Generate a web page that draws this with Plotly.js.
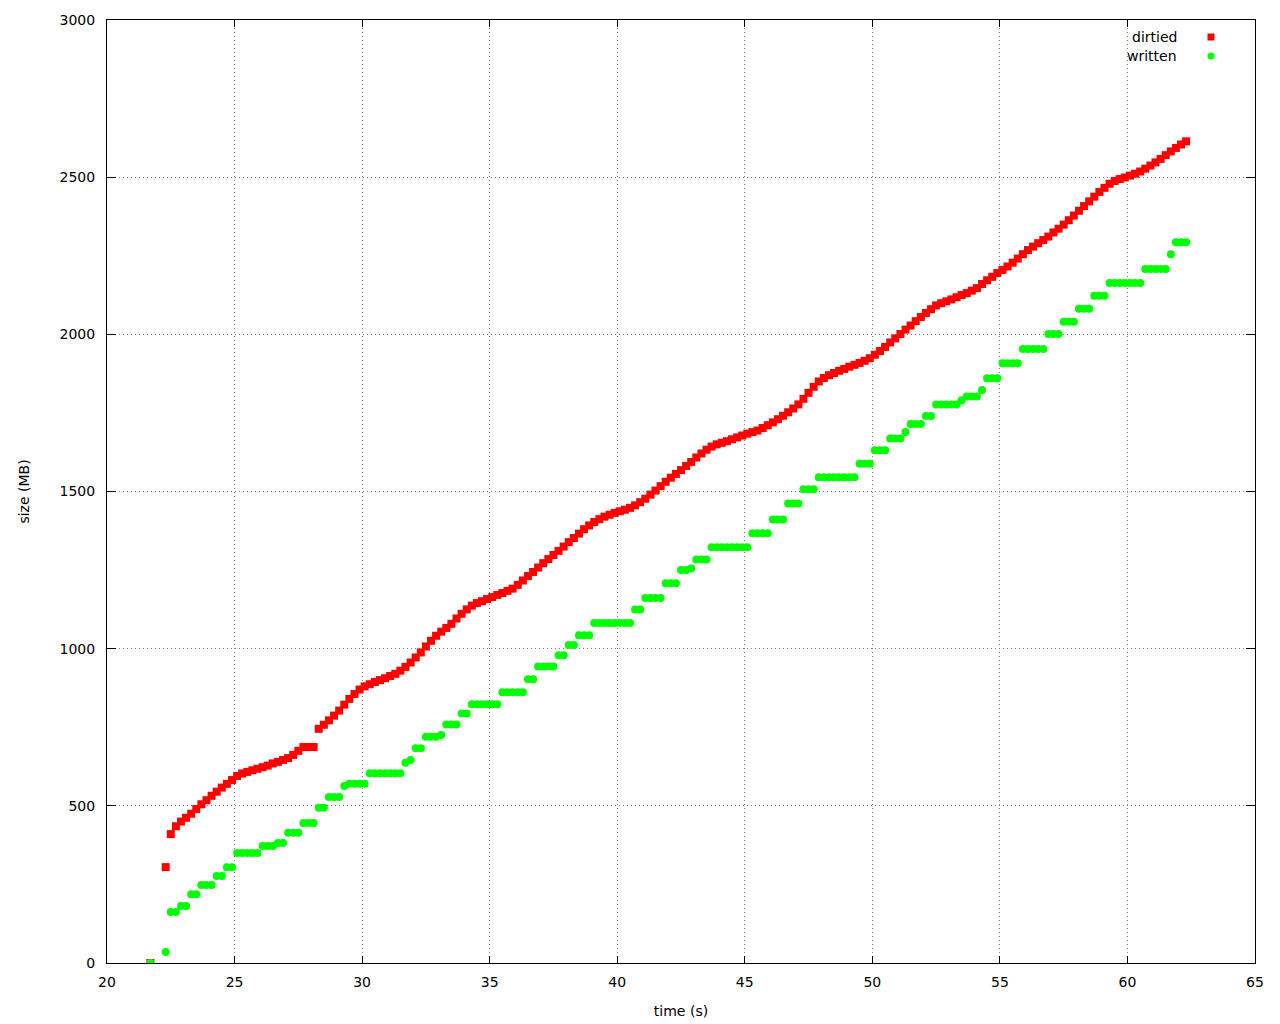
<!DOCTYPE html>
<html>
<head>
<meta charset="utf-8">
<script src="https://cdn.plot.ly/plotly-3.0.1.min.js"></script>
<style>html,body{margin:0;padding:0;background:#fff;}#chart{width:1280px;height:1024px;}</style>
</head>
<body>
<div id="chart"></div>
<script>
// sample times (s)
const time = [
  21.7, 22.3,
  22.5, 22.7, 22.9, 23.1, 23.3, 23.5, 23.7, 23.9, 24.1, 24.3,
  24.5, 24.7, 24.9, 25.1, 25.3, 25.5, 25.7, 25.9, 26.1, 26.3,
  26.5, 26.7, 26.9, 27.1, 27.3, 27.5, 27.7, 27.9, 28.1, 28.3,
  28.5, 28.7, 28.9, 29.1, 29.3, 29.5, 29.7, 29.9, 30.1, 30.3,
  30.5, 30.7, 30.9, 31.1, 31.3, 31.5, 31.7, 31.9, 32.1, 32.3,
  32.5, 32.7, 32.9, 33.1, 33.3, 33.5, 33.7, 33.9, 34.1, 34.3,
  34.5, 34.7, 34.9, 35.1, 35.3, 35.5, 35.7, 35.9, 36.1, 36.3,
  36.5, 36.7, 36.9, 37.1, 37.3, 37.5, 37.7, 37.9, 38.1, 38.3,
  38.5, 38.7, 38.9, 39.1, 39.3, 39.5, 39.7, 39.9, 40.1, 40.3,
  40.5, 40.7, 40.9, 41.1, 41.3, 41.5, 41.7, 41.9, 42.1, 42.3,
  42.5, 42.7, 42.9, 43.1, 43.3, 43.5, 43.7, 43.9, 44.1, 44.3,
  44.5, 44.7, 44.9, 45.1, 45.3, 45.5, 45.7, 45.9, 46.1, 46.3,
  46.5, 46.7, 46.9, 47.1, 47.3, 47.5, 47.7, 47.9, 48.1, 48.3,
  48.5, 48.7, 48.9, 49.1, 49.3, 49.5, 49.7, 49.9, 50.1, 50.3,
  50.5, 50.7, 50.9, 51.1, 51.3, 51.5, 51.7, 51.9, 52.1, 52.3,
  52.5, 52.7, 52.9, 53.1, 53.3, 53.5, 53.7, 53.9, 54.1, 54.3,
  54.5, 54.7, 54.9, 55.1, 55.3, 55.5, 55.7, 55.9, 56.1, 56.3,
  56.5, 56.7, 56.9, 57.1, 57.3, 57.5, 57.7, 57.9, 58.1, 58.3,
  58.5, 58.7, 58.9, 59.1, 59.3, 59.5, 59.7, 59.9, 60.1, 60.3,
  60.5, 60.7, 60.9, 61.1, 61.3, 61.5, 61.7, 61.9, 62.1, 62.3
];

// dirtied size (MB)
const dirtied = [
  0, 305,
  410, 435, 450, 462, 475, 490, 505, 518, 532, 545,
  558, 570, 582, 595, 603, 608, 613, 618, 623, 628,
  635, 640, 646, 652, 662, 675, 687, 687, 687, 745,
  758, 772, 787, 803, 822, 840, 856, 870, 880, 887,
  894, 900, 906, 913, 920, 930, 942, 956, 972, 988,
  1007, 1025, 1041, 1054, 1066, 1079, 1096, 1111, 1125, 1137,
  1145, 1151, 1158, 1164, 1171, 1177, 1184, 1191, 1203, 1217,
  1231, 1244, 1258, 1272, 1285, 1298, 1311, 1325, 1339, 1352,
  1366, 1380, 1392, 1403, 1412, 1420, 1426, 1432, 1437, 1442,
  1448, 1456, 1466, 1477, 1490, 1503, 1517, 1531, 1544, 1556,
  1568, 1581, 1594, 1608, 1621, 1633, 1643, 1650, 1655, 1660,
  1666, 1672, 1678, 1684, 1689, 1694, 1702, 1711, 1720, 1730,
  1741, 1752, 1764, 1777, 1795, 1814, 1833, 1850, 1861, 1870,
  1877, 1884, 1890, 1897, 1903, 1909, 1916, 1924, 1935, 1947,
  1960, 1974, 1987, 2001, 2015, 2028, 2042, 2055, 2068, 2080,
  2092, 2099, 2105, 2111, 2118, 2125, 2131, 2139, 2147, 2160,
  2172, 2183, 2195, 2205, 2216, 2228, 2241, 2255, 2268, 2279,
  2290, 2300, 2311, 2324, 2336, 2349, 2363, 2378, 2393, 2408,
  2423, 2438, 2453, 2466, 2479, 2488, 2494, 2499, 2505, 2511,
  2518, 2527, 2537, 2547, 2558, 2570, 2582, 2593, 2604, 2614
];

// written size (MB)
const written = [
  0, 35,
  162, 162, 181, 181, 219, 219, 248, 248, 248, 277,
  277, 305, 305, 350, 350, 350, 350, 350, 372, 372,
  372, 382, 382, 414, 414, 414, 445, 445, 445, 494,
  494, 528, 528, 528, 563, 570, 570, 570, 570, 604,
  604, 604, 604, 604, 604, 604, 637, 646, 683, 683,
  720, 720, 720, 725, 759, 759, 759, 794, 794, 823,
  823, 823, 823, 823, 823, 861, 861, 861, 861, 861,
  903, 903, 943, 943, 943, 943, 979, 979, 1012, 1012,
  1043, 1043, 1043, 1082, 1082, 1082, 1082, 1082, 1082, 1082,
  1082, 1125, 1125, 1161, 1161, 1161, 1161, 1208, 1208, 1208,
  1250, 1250, 1255, 1284, 1284, 1284, 1323, 1323, 1323, 1323,
  1323, 1323, 1323, 1323, 1367, 1367, 1367, 1367, 1411, 1411,
  1411, 1462, 1462, 1462, 1507, 1507, 1507, 1545, 1545, 1545,
  1545, 1545, 1545, 1545, 1545, 1588, 1588, 1588, 1631, 1631,
  1631, 1669, 1669, 1669, 1689, 1715, 1715, 1715, 1740, 1740,
  1777, 1777, 1777, 1777, 1777, 1790, 1802, 1802, 1802, 1823,
  1860, 1860, 1860, 1908, 1908, 1908, 1908, 1953, 1953, 1953,
  1953, 1953, 2001, 2001, 2001, 2040, 2040, 2040, 2081, 2081,
  2081, 2123, 2123, 2123, 2163, 2163, 2163, 2163, 2163, 2163,
  2163, 2208, 2208, 2208, 2208, 2208, 2255, 2293, 2293, 2293
];

const seriesNames = ['dirtied', 'written'];
const xTicks = [20, 25, 30, 35, 40, 45, 50, 55, 60, 65];
const yTicks = [0, 500, 1000, 1500, 2000, 2500, 3000];

const RED = '#ff0000';
const GREEN = '#00ff00';
const FONT = 'DejaVu Sans, sans-serif';
const FS = 14;

const traces = [
  {
    type: 'scatter', mode: 'markers', name: seriesNames[0],
    x: time, y: dirtied,
    marker: {symbol: 'square', size: 8, color: RED, line: {width: 0}},
    showlegend: false, hoverinfo: 'x+y'
  },
  {
    type: 'scatter', mode: 'markers', name: seriesNames[1],
    x: time, y: written,
    marker: {symbol: 'circle', size: 8, color: GREEN, line: {width: 0}},
    showlegend: false, hoverinfo: 'x+y'
  }
];

// legend (gnuplot style: text on the left, key on the right)
const keyX = (1211 - 107) / 1148;
const txtX = (1179 - 107) / 1148;
const row1 = (963 - 37) / 943;
const row2 = (963 - 56) / 943;

const layout = {
  width: 1280, height: 1024,
  margin: {l: 107, r: 25, t: 20, b: 61, pad: 0},
  paper_bgcolor: '#fff', plot_bgcolor: '#fff',
  font: {family: FONT, size: FS, color: '#000'},
  showlegend: false,
  xaxis: {
    range: [20, 65], tickvals: xTicks, ticktext: xTicks.map(String),
    ticks: 'inside', ticklen: 7, tickwidth: 1, tickcolor: '#000',
    showline: true, linecolor: '#000', linewidth: 1, mirror: 'allticks',
    showgrid: true, gridcolor: '#808080', gridwidth: 1, griddash: '1px,3px',
    zeroline: false, ticklabelstandoff: 6,
    tickfont: {family: FONT, size: FS, color: '#000'},
    title: {text: 'time (s)', font: {family: FONT, size: FS, color: '#000'}, standoff: 17}
  },
  yaxis: {
    range: [0, 3000], tickvals: yTicks, ticktext: yTicks.map(String),
    ticks: 'inside', ticklen: 9, tickwidth: 1, tickcolor: '#000',
    showline: true, linecolor: '#000', linewidth: 1, mirror: 'allticks',
    showgrid: true, gridcolor: '#808080', gridwidth: 1, griddash: '1px,3px',
    zeroline: false, ticklabelstandoff: 8,
    tickfont: {family: FONT, size: FS, color: '#000'},
    title: {text: 'size (MB)', font: {family: FONT, size: FS, color: '#000'}, standoff: 26}
  },
  annotations: [
    {xref: 'paper', yref: 'paper', x: txtX, y: row1, xanchor: 'right', yanchor: 'middle',
     text: seriesNames[0], showarrow: false, font: {family: FONT, size: FS, color: '#000'}},
    {xref: 'paper', yref: 'paper', x: txtX, y: row2, xanchor: 'right', yanchor: 'middle',
     text: seriesNames[1], showarrow: false, font: {family: FONT, size: FS, color: '#000'}}
  ],
  shapes: [
    {type: 'rect', xref: 'paper', yref: 'paper', xsizemode: 'pixel', ysizemode: 'pixel',
     xanchor: keyX, yanchor: row1, x0: -3.5, x1: 3.5, y0: -3.5, y1: 3.5,
     fillcolor: RED, line: {width: 0}},
    {type: 'circle', xref: 'paper', yref: 'paper', xsizemode: 'pixel', ysizemode: 'pixel',
     xanchor: keyX, yanchor: row2, x0: -3.5, x1: 3.5, y0: -3.5, y1: 3.5,
     fillcolor: GREEN, line: {width: 0}}
  ]
};

Plotly.newPlot('chart', traces, layout, {displayModeBar: false, staticPlot: true});
</script>
</body>
</html>
